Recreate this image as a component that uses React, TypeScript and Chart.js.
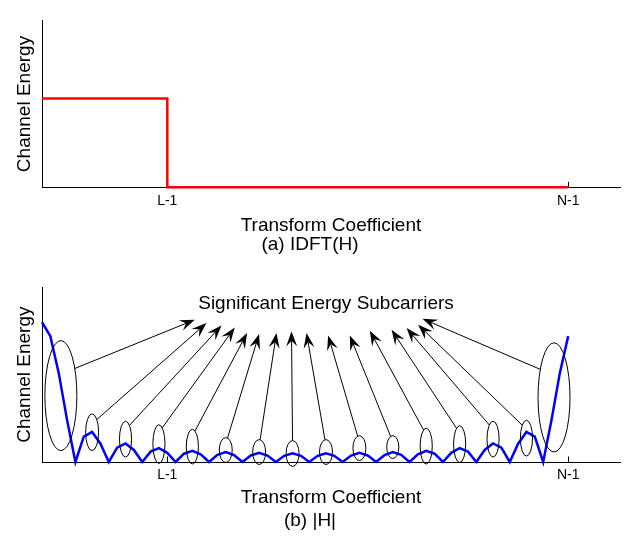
import React, { useEffect, useRef } from "react";
import { Chart, registerables } from "chart.js";

Chart.register(...registerables);

// ---------- data ----------
// Panel (a): IDFT(H) - channel impulse response energy (step)
const idftX = [0, 15, 15, 63];
const idftY = [16, 16, 0, 0];

// Panel (b): |H| per subcarrier index k
const subcarrierK = [
  0, 1, 2, 3, 4, 5, 6, 7, 8, 9, 10, 11, 12, 13, 14, 15,
  16, 17, 18, 19, 20, 21, 22, 23, 24, 25, 26, 27, 28, 29, 30, 31,
  32, 33, 34, 35, 36, 37, 38, 39, 40, 41, 42, 43, 44, 45, 46, 47,
  48, 49, 50, 51, 52, 53, 54, 55, 56, 57, 58, 59, 60, 61, 62, 63,
];
const magH = [
  16, 14.41, 10.2, 4.82, 0, 2.91, 3.44, 2.1, 0, 1.65, 2.12, 1.38, 0, 1.19, 1.58, 1.05,
  0, 0.95, 1.29, 0.88, 0, 0.82, 1.13, 0.78, 0, 0.75, 1.05, 0.73, 0, 0.71, 1.0, 0.71,
  0, 0.71, 1.0, 0.71, 0, 0.73, 1.05, 0.75, 0, 0.78, 1.13, 0.82, 0, 0.88, 1.29, 0.95,
  0, 1.05, 1.58, 1.19, 0, 1.38, 2.12, 1.65, 0, 2.1, 3.44, 2.91, 0, 4.82, 10.2, 14.41,
];

// x-axis tick labels
const tickValues = [15, 63];
const tickLabels = ["L-1", "N-1"];

// callout annotations in panel (b) (data units)
const calloutX = [2.26, 6, 10, 14, 18, 22, 26, 30, 34, 38, 42, 46, 50, 54, 58, 61.3];
const calloutY = [7.6, 3.41, 2.62, 2.05, 1.76, 1.37, 1.14, 0.97, 1.14, 1.59, 1.71, 1.82, 2.05, 2.62, 2.73, 7.4];
const calloutW = [3.83, 1.55, 1.45, 1.45, 1.45, 1.55, 1.55, 1.55, 1.55, 1.55, 1.45, 1.45, 1.45, 1.45, 1.45, 3.83];
const calloutH = [12.6, 4.21, 4.1, 4.44, 3.98, 2.85, 2.85, 2.96, 2.85, 2.85, 2.62, 4.1, 4.21, 4.1, 4.1, 12.5];
const tipX = [18.29, 19.69, 21.49, 23.08, 24.55, 25.99, 28.07, 29.87, 31.67, 34.26, 36.85, 39.25, 41.85, 43.65, 45.03, 45.56];
const tipY = [16.28, 15.9, 15.63, 15.4, 14.76, 14.65, 14.76, 14.95, 14.76, 14.49, 14.49, 15.03, 15.14, 15.33, 15.71, 16.39];
const calloutText = "Significant Energy Subcarriers";
const calloutTextX = 34;
const calloutTextY = 18.1;

const FONT = '"Liberation Sans", Arial, Helvetica, sans-serif';

Chart.defaults.font.family = FONT;
Chart.defaults.color = "#000";

const inwardTicks = {
  id: "inwardTicks",
  beforeDatasetsDraw(chart: any) {
    const { ctx, chartArea, scales } = chart;
    const x = scales.x;
    ctx.save();
    ctx.strokeStyle = "#000";
    ctx.lineWidth = 1;
    for (const v of tickValues) {
      const px = Math.round(x.getPixelForValue(v)) + 0.5;
      ctx.beginPath();
      ctx.moveTo(px, chartArea.bottom);
      ctx.lineTo(px, chartArea.bottom - 5.5);
      ctx.stroke();
    }
    ctx.restore();
  },
};

const calloutPlugin = {
  id: "callouts",
  afterDatasetsDraw(chart: any) {
    const { ctx, scales } = chart;
    const x = scales.x;
    const y = scales.y;
    ctx.save();
    ctx.strokeStyle = "#000";
    ctx.fillStyle = "#000";
    ctx.lineWidth = 1;
    for (let i = 0; i < calloutX.length; i++) {
      const cx = x.getPixelForValue(calloutX[i]);
      const cy = y.getPixelForValue(calloutY[i]);
      const rx = Math.abs(x.getPixelForValue(calloutX[i] + calloutW[i] / 2) - cx);
      const ry = Math.abs(y.getPixelForValue(calloutY[i] + calloutH[i] / 2) - cy);
      ctx.beginPath();
      ctx.ellipse(cx, cy, rx, ry, 0, 0, Math.PI * 2);
      ctx.stroke();

      const tx = x.getPixelForValue(tipX[i]);
      const ty = y.getPixelForValue(tipY[i]);
      const ang = Math.atan2(ty - cy, tx - cx);
      const sx = cx + rx * Math.cos(ang);
      const sy = cy + ry * Math.sin(ang);
      const dx = tx - sx;
      const dy = ty - sy;
      const len = Math.hypot(dx, dy);
      const ux = dx / len;
      const uy = dy / len;
      const nx = -uy;
      const ny = ux;
      const L = 15;
      const W = 5.5;
      const notch = 0.62;
      ctx.beginPath();
      ctx.moveTo(sx, sy);
      ctx.lineTo(tx - ux * L * notch, ty - uy * L * notch);
      ctx.stroke();
      ctx.beginPath();
      ctx.moveTo(tx, ty);
      ctx.lineTo(tx - ux * L + nx * W, ty - uy * L + ny * W);
      ctx.lineTo(tx - ux * L * notch, ty - uy * L * notch);
      ctx.lineTo(tx - ux * L - nx * W, ty - uy * L - ny * W);
      ctx.closePath();
      ctx.fill();
    }
    ctx.font = `19px ${FONT}`;
    ctx.textAlign = "center";
    ctx.textBaseline = "middle";
    ctx.fillText(calloutText, x.getPixelForValue(calloutTextX), y.getPixelForValue(calloutTextY));
    ctx.restore();
  },
};

function makeOptions(opts: {
  yMax: number;
  padTop: number;
  padBottom: number;
  xHeight: number;
  xTitlePadBottom: number;
  caption: string;
}) {
  return {
    animation: false,
    responsive: false,
    events: [],
    layout: { padding: { top: opts.padTop, left: 0, right: 4, bottom: opts.padBottom } },
    plugins: {
      legend: { display: false },
      tooltip: { enabled: false },
      title: { display: false },
      subtitle: {
        display: true,
        text: opts.caption,
        position: "bottom",
        color: "#000",
        font: { size: 19, family: FONT, lineHeight: 1, weight: "normal" },
        padding: 0,
      },
    },
    scales: {
      x: {
        type: "linear",
        min: 0,
        max: 69.2,
        grid: { display: false, drawTicks: false },
        border: { display: true, color: "#000", width: 1 },
        ticks: {
          autoSkip: false,
          maxRotation: 0,
          padding: 5,
          color: "#000",
          font: { size: 14, family: FONT },
          callback: (v: any) => {
            const idx = tickValues.indexOf(Number(v));
            return idx >= 0 ? tickLabels[idx] : "";
          },
        },
        afterBuildTicks: (scale: any) => {
          scale.ticks = tickValues.map((v) => ({ value: v }));
        },
        title: {
          display: true,
          text: "Transform Coefficient",
          color: "#000",
          font: { size: 19, family: FONT, lineHeight: 1 },
          padding: { top: 0, bottom: opts.xTitlePadBottom },
        },
        afterFit: (scale: any) => {
          scale.height = opts.xHeight;
        },
      },
      y: {
        type: "linear",
        min: 0,
        max: opts.yMax,
        grid: { display: false, drawTicks: false },
        border: { display: true, color: "#000", width: 1 },
        ticks: { display: false },
        title: {
          display: true,
          text: "Channel Energy",
          color: "#000",
          font: { size: 19, family: FONT, lineHeight: 1 },
          padding: { top: 15, bottom: 0 },
        },
        afterFit: (scale: any) => {
          scale.width = 42;
        },
      },
    },
  } as any;
}

export default function App() {
  const topRef = useRef<HTMLCanvasElement | null>(null);
  const botRef = useRef<HTMLCanvasElement | null>(null);

  useEffect(() => {
    if (!topRef.current || !botRef.current) return;
    const top = new Chart(topRef.current, {
      type: "scatter",
      data: {
        datasets: [
          {
            data: idftX.map((xv, i) => ({ x: xv, y: idftY[i] })),
            showLine: true,
            borderColor: "#ff0000",
            backgroundColor: "#ff0000",
            borderWidth: 2.5,
            pointRadius: 0,
            tension: 0,
            fill: false,
            clip: false,
          },
        ],
      },
      options: makeOptions({
        yMax: 30,
        padTop: 20.7,
        padBottom: 6,
        xHeight: 47.7,
        xTitlePadBottom: 0,
        caption: "(a) IDFT(H)",
      }),
      plugins: [inwardTicks],
    } as any);

    const bottom = new Chart(botRef.current, {
      type: "line",
      data: {
        labels: subcarrierK,
        datasets: [
          {
            data: magH,
            borderColor: "#0000ff",
            backgroundColor: "#0000ff",
            borderWidth: 2.5,
            pointRadius: 0,
            tension: 0,
            fill: false,
            clip: false,
          },
        ],
      },
      options: makeOptions({
        yMax: 20,
        padTop: 20.3,
        padBottom: 7,
        xHeight: 49,
        xTitlePadBottom: 4,
        caption: "(b) |H|",
      }),
      plugins: [inwardTicks, calloutPlugin],
    } as any);

    return () => {
      top.destroy();
      bottom.destroy();
    };
  }, []);

  return (
    <div style={{ position: "absolute", left: 0, top: 0, width: 624, height: 537, background: "#fff" }}>
      <canvas
        ref={topRef}
        width={624}
        height={260}
        style={{ position: "absolute", left: 0, top: 0, width: 624, height: 260, display: "block" }}
      />
      <canvas
        ref={botRef}
        width={624}
        height={270}
        style={{ position: "absolute", left: 0, top: 267, width: 624, height: 270, display: "block" }}
      />
    </div>
  );
}
